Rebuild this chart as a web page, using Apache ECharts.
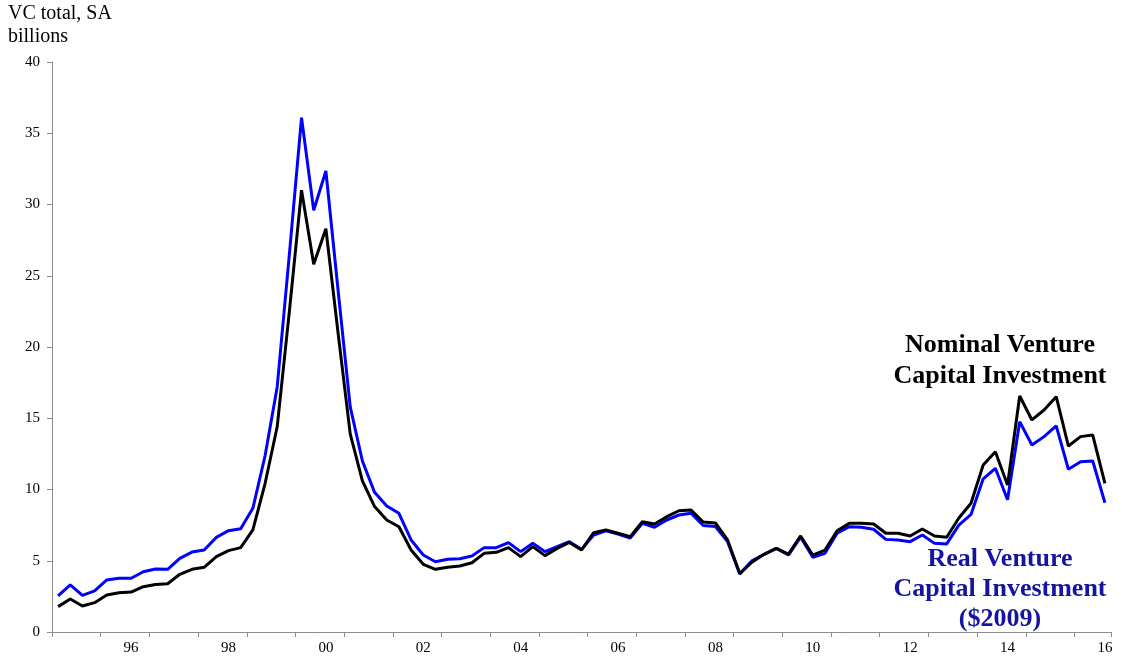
<!DOCTYPE html>
<html>
<head>
<meta charset="utf-8">
<script src="https://cdn.jsdelivr.net/npm/echarts@6/dist/echarts.min.js"></script>
<style>
  html, body { margin: 0; padding: 0; background: #fff; }
  #vc-chart { width: 1122px; height: 663px; }
</style>
</head>
<body>
<div id="vc-chart"></div>
<script>
// quarterly, 1995Q1 .. 2016Q3
const firstYear = 1995;
const quarterCount = 87;
const quarters = [];
for (let i = 0; i < quarterCount; i++) {
    quarters.push((firstYear + Math.floor(i / 4)) + 'Q' + (i % 4 + 1));
}

// nominal VC investment, $ billions SA
const nominalVC = [
    1.78, 2.32, 1.82, 2.06, 2.6, 2.76, 2.8, 3.18, 3.34, 3.39,
    4.05, 4.4, 4.54, 5.29, 5.71, 5.92, 7.16, 10.4, 14.4, 22.5,
    31.0, 25.8, 28.3, 21.0, 13.9, 10.6, 8.8, 7.86, 7.39, 5.75,
    4.75, 4.4, 4.54, 4.63, 4.86, 5.52, 5.59, 5.92, 5.29, 5.99,
    5.36, 5.87, 6.29, 5.75, 6.97, 7.16, 6.93, 6.69, 7.74, 7.58,
    8.09, 8.51, 8.56, 7.72, 7.65, 6.46, 4.1, 4.9, 5.45, 5.87,
    5.47, 6.74, 5.4, 5.75, 7.11, 7.63, 7.63, 7.58, 6.93, 6.93,
    6.74, 7.23, 6.74, 6.65, 8.0, 9.03, 11.72, 12.65, 10.32, 16.56,
    14.88, 15.58, 16.51, 13.05, 13.71, 13.82, 10.43
];

// real VC investment ($2009)
const realVC = [
    2.53, 3.3, 2.57, 2.88, 3.65, 3.77, 3.77, 4.23, 4.42, 4.4,
    5.17, 5.61, 5.75, 6.64, 7.11, 7.25, 8.68, 12.35, 17.2, 26.5,
    36.1, 29.6, 32.35, 24.0, 15.8, 12.0, 9.8, 8.84, 8.33, 6.46,
    5.4, 4.93, 5.1, 5.14, 5.33, 5.92, 5.92, 6.27, 5.64, 6.22,
    5.64, 5.99, 6.34, 5.8, 6.81, 7.1, 6.88, 6.6, 7.63, 7.35,
    7.86, 8.21, 8.33, 7.47, 7.4, 6.34, 4.07, 5.0, 5.45, 5.87,
    5.4, 6.65, 5.24, 5.52, 6.93, 7.39, 7.35, 7.21, 6.5, 6.46,
    6.34, 6.81, 6.22, 6.18, 7.5, 8.25, 10.75, 11.49, 9.28, 14.76,
    13.12, 13.71, 14.46, 11.42, 11.95, 12.0, 9.07
];

const yTicks = { min: 0, max: 40, step: 5 };
const serif = '"Liberation Serif", "Times New Roman", serif';

let chart = echarts.init(document.getElementById('vc-chart'));

let options = {
    animation: false,
    grid: {
        left: 52,
        right: 11,
        top: 62,
        bottom: 31
    },
    xAxis: {
        type: 'category',
        data: quarters,
        boundaryGap: true,
        axisLine: {
            lineStyle: { color: '#8c8c8c', width: 1 }
        },
        axisTick: {
            show: true,
            alignWithLabel: false,
            length: 5,
            interval: 3,
            lineStyle: { color: '#8c8c8c' }
        },
        axisLabel: {
            interval: function(idx) { return idx % 8 === 6; },
            formatter: function(val) { return val.substr(2, 2); },
            margin: 9,
            fontFamily: serif,
            fontSize: 15,
            color: '#000'
        },
        splitLine: { show: false }
    },
    yAxis: {
        type: 'value',
        min: yTicks.min,
        max: yTicks.max,
        interval: yTicks.step,
        axisLine: {
            show: true,
            lineStyle: { color: '#8c8c8c', width: 1 }
        },
        axisTick: {
            show: true,
            length: 5,
            lineStyle: { color: '#8c8c8c' }
        },
        axisLabel: {
            margin: 12,
            fontFamily: serif,
            fontSize: 15,
            color: '#000'
        },
        splitLine: { show: false }
    },
    series: [
        {
            name: 'Real Venture Capital Investment ($2009)',
            type: 'line',
            data: realVC,
            symbol: 'none',
            lineStyle: { color: '#0000ff', width: 3 },
            itemStyle: { color: '#0000ff' }
        },
        {
            name: 'Nominal Venture Capital Investment',
            type: 'line',
            data: nominalVC,
            symbol: 'none',
            lineStyle: { color: '#000000', width: 3 },
            itemStyle: { color: '#000000' }
        }
    ],
    graphic: [
        {
            type: 'text',
            left: 8,
            top: 2,
            style: {
                text: 'VC total, SA\nbillions',
                font: '20px ' + serif,
                lineHeight: 23,
                fill: '#000'
            }
        },
        {
            type: 'text',
            x: 1000,
            y: 330,
            style: {
                text: 'Nominal Venture\nCapital Investment',
                font: 'bold 26px ' + serif,
                lineHeight: 31,
                align: 'center',
                fill: '#000'
            }
        },
        {
            type: 'text',
            x: 1000,
            y: 544,
            style: {
                text: 'Real Venture\nCapital Investment\n($2009)',
                font: 'bold 26px ' + serif,
                lineHeight: 30,
                align: 'center',
                fill: '#1414a0'
            }
        }
    ]
};

chart.setOption(options);
</script>
</body>
</html>
